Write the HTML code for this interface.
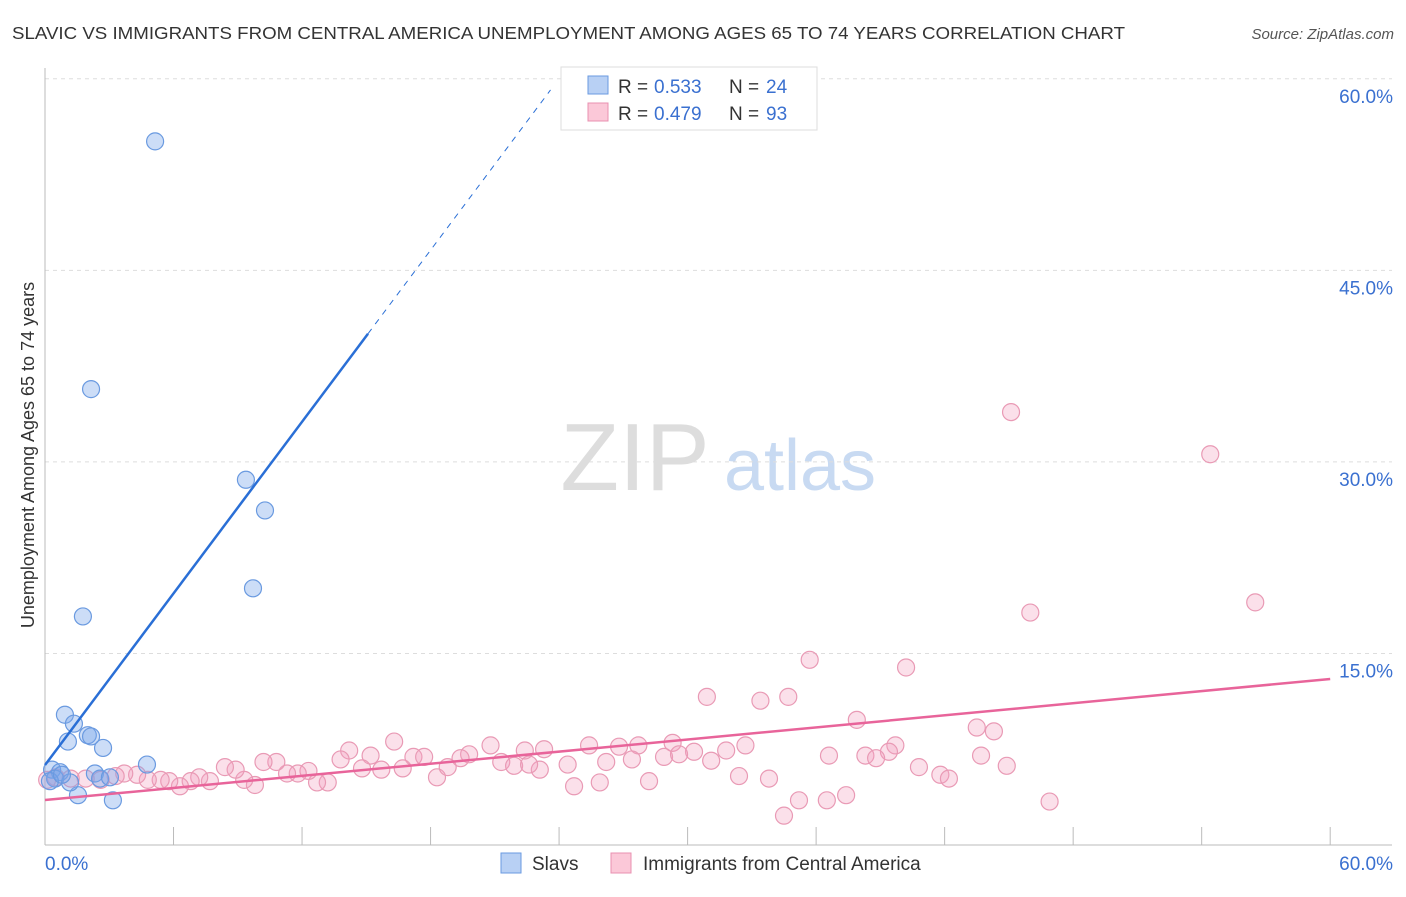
<!DOCTYPE html>
<html><head><meta charset="utf-8"><style>
body{margin:0;background:#fff;font-family:"Liberation Sans",sans-serif;}
svg text{font-family:"Liberation Sans",sans-serif;}
</style></head><body>
<svg id="c" width="1406" height="892" xmlns="http://www.w3.org/2000/svg">
<text x="12" y="39" font-size="17.5" fill="#333" textLength="1113" lengthAdjust="spacingAndGlyphs">SLAVIC VS IMMIGRANTS FROM CENTRAL AMERICA UNEMPLOYMENT AMONG AGES 65 TO 74 YEARS CORRELATION CHART</text>
<text x="1394" y="39" font-size="15" fill="#555" font-style="italic" text-anchor="end">Source: ZipAtlas.com</text>
<g><text x="635" y="490" font-size="96" fill="#ddd" font-family="Liberation Serif, serif" text-anchor="middle">ZIP</text><text x="800" y="490" font-size="72" fill="#c8daf2" text-anchor="middle">atlas</text></g>
<g id="grid"></g><g id="axes"></g><g id="marks"></g>
<text transform="translate(34,455) rotate(-90)" font-size="18" fill="#333" text-anchor="middle">Unemployment Among Ages 65 to 74 years</text>
<g>
<rect x="561" y="67" width="256" height="63" fill="#fff" stroke="#ddd"/>
<rect x="588" y="76" width="20" height="18" fill="#b8d0f4" stroke="#6a9ae0"/>
<rect x="588" y="103" width="20" height="18" fill="#fbc8d8" stroke="#e890b0"/>
<text y="93" font-size="19" fill="#333"><tspan x="618">R =</tspan><tspan x="654" fill="#3a70d0">0.533</tspan><tspan x="729">N =</tspan><tspan x="766" fill="#3a70d0">24</tspan></text>
<text y="120" font-size="19" fill="#333"><tspan x="618">R =</tspan><tspan x="654" fill="#3a70d0">0.479</tspan><tspan x="729">N =</tspan><tspan x="766" fill="#3a70d0">93</tspan></text>
</g>
<g>
<rect x="501" y="853" width="20" height="20" fill="#b8d0f4" stroke="#6a9ae0"/>
<text x="532" y="870" font-size="19" fill="#333">Slavs</text>
<rect x="611" y="853" width="20" height="20" fill="#fbc8d8" stroke="#e890b0"/>
<text x="643" y="870" font-size="19" fill="#333">Immigrants from Central America</text>
</g>
</svg>
<script>
const yTicks=[15,30,45,60];
const yTickLabels=["15.0%","30.0%","45.0%","60.0%"];
const xEndLabels=["0.0%","60.0%"];
const slavX=[5.14,2.15,9.38,10.27,9.71,1.77,0.93,1.35,1.07,2.0,2.15,2.71,4.76,2.33,2.57,3.03,0.33,0.7,0.47,0.23,1.54,3.17,1.17,0.79];
const slavY=[55.1,35.7,28.6,26.2,20.1,17.9,10.2,9.5,8.1,8.6,8.5,7.6,6.3,5.6,5.2,5.3,5.9,5.7,5.2,5.0,3.9,3.5,4.9,5.5];
const immX=[45.1,54.4,56.5,46.0,35.7,40.2,30.9,33.4,34.7,37.9,43.5,44.3,39.7,16.3,14.2,15.2,20.8,23.3,22.4,19.8,19.4,25.4,26.8,27.7,29.3,30.3,31.8,32.7,28.9,36.6,38.3,39.4,38.8,43.7,44.9,40.8,41.8,42.2,32.4,33.8,28.2,25.9,24.7,23.1,21.3,21.9,22.6,24.4,27.4,26.2,31.1,29.6,18.3,18.8,17.2,17.7,16.7,15.7,14.8,13.8,13.2,12.7,12.3,11.8,11.3,10.8,10.2,9.8,9.3,8.9,8.4,7.7,7.2,6.8,6.3,5.8,5.4,4.8,4.3,3.7,3.3,2.6,1.9,1.2,0.5,0.1,35.2,36.5,37.4,34.5,46.9];
const immY=[33.9,30.6,19.0,18.2,14.5,13.9,11.6,11.3,11.6,9.8,9.2,8.9,7.8,8.1,7.4,7.0,7.8,7.5,7.4,7.1,6.8,7.8,7.7,7.8,8.0,7.3,7.4,7.8,6.9,7.0,7.0,7.3,6.8,7.0,6.2,6.1,5.5,5.2,5.4,5.2,5.0,4.9,4.6,5.9,6.5,6.2,6.3,6.3,6.7,6.5,6.6,7.1,5.3,6.1,6.9,6.9,6.0,5.9,6.0,6.7,4.9,4.9,5.8,5.6,5.6,6.5,6.5,4.7,5.1,5.9,6.1,5.0,5.3,5.0,4.6,5.0,5.1,5.1,5.5,5.6,5.4,5.1,5.2,5.2,5.3,5.1,3.5,3.5,3.9,2.3,3.4];
const slavTrend=[6.26,2.24]; // intercept, slope
const immTrend=[3.52,0.158];
const NS="http://www.w3.org/2000/svg";
const X=v=>45+v*21.42, Y=v=>845-v*12.77;
function mk(p,tag,a){const e=document.createElementNS(NS,tag);for(const k in a)e.setAttribute(k,a[k]);document.getElementById(p).appendChild(e);return e;}
yTicks.forEach((t,i)=>{
 const g=mk('grid','line',{x1:45,x2:1392,y1:Y(t),y2:Y(t),stroke:'#ddd','stroke-dasharray':'4,4'});
 
 
 const l=mk('grid','text',{x:1393,y:Y(t)+24,'font-size':19,fill:'#3a70d0','text-anchor':'end'});l.textContent=yTickLabels[i];
 
 
});
const ax=mk('axes','line',{x1:45,x2:1392,y1:845,y2:845,stroke:'#bbb'});


const ay=mk('axes','line',{x1:45,x2:45,y1:68,y2:845,stroke:'#bbb'});


for(let i=1;i<=10;i++){const t=mk('axes','line',{x1:X(i*6),x2:X(i*6),y1:827,y2:845,stroke:'#bbb'});
 
 }
[[0,'start',45],[60,'end',1393]].forEach((d,i)=>{const l=mk('axes','text',{x:d[2],y:870,'font-size':19,fill:'#3a70d0','text-anchor':d[1]});l.textContent=xEndLabels[i];
 
 });
immX.forEach((x,i)=>{const c=mk('marks','circle',{cx:X(x),cy:Y(immY[i]),r:8.5,fill:'rgba(244,160,190,0.32)',stroke:'#e99ab5','stroke-width':1.2});
 
 });
slavX.forEach((x,i)=>{const c=mk('marks','circle',{cx:X(x),cy:Y(slavY[i]),r:8.5,fill:'rgba(120,165,235,0.38)',stroke:'#6a9ae0','stroke-width':1.2});
 
 });
const it=mk('marks','line',{x1:X(0),y1:Y(immTrend[0]),x2:X(60),y2:Y(immTrend[0]+immTrend[1]*60),stroke:'#e8649a','stroke-width':2.5});


const sx=15.08,ex=23.6;
const st=mk('marks','line',{x1:X(0),y1:Y(slavTrend[0]),x2:X(sx),y2:Y(slavTrend[0]+slavTrend[1]*sx),stroke:'#2a6fd6','stroke-width':2.5});


const sd=mk('marks','line',{x1:X(sx),y1:Y(slavTrend[0]+slavTrend[1]*sx),x2:X(ex),y2:Y(slavTrend[0]+slavTrend[1]*ex),stroke:'#2a6fd6','stroke-width':1,'stroke-dasharray':'6,6'});


</script>
</body></html>
